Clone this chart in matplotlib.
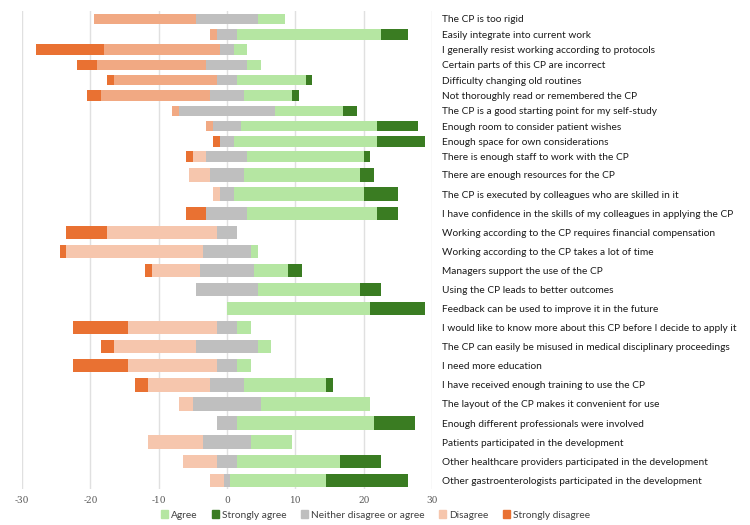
import numpy as np
import matplotlib.pyplot as plt
from matplotlib.patches import Patch

plt.rcParams['axes.unicode_minus'] = False

statements = [
    'The CP is too rigid',
    'Easily integrate into current work',
    'I generally resist working according to protocols',
    'Certain parts of this CP are incorrect',
    'Difficulty changing old routines',
    'Not thoroughly read or remembered the CP',
    'The CP is a good starting point for my self-study',
    'Enough room to consider patient wishes',
    'Enough space for own considerations',
    'There is enough staff to work with the CP',
    'There are enough resources for the CP',
    'The CP is executed by colleagues who are skilled in it',
    'I have confidence in the skills of my colleagues in applying the CP',
    'Working according to the CP requires financial compensation',
    'Working according to the CP takes a lot of time',
    'Managers support the use of the CP',
    'Using the CP leads to better outcomes',
    'Feedback can be used to improve it in the future',
    'I would like to know more about this CP before I decide to apply it',
    'The CP can easily be misused in medical disciplinary proceedings',
    'I need more education',
    'I have received enough training to use the CP',
    'The layout of the CP makes it convenient for use',
    'Enough different professionals were involved',
    'Patients participated in the development',
    'Other healthcare providers participated in the development',
    'Other gastroenterologists participated in the development',
]

strongly_disagree = [0, 0, 10, 3, 1, 2, 0, 0, 1, 1, 0, 0, 3, 6, 1, 1, 0, 0, 8, 2, 8, 2, 0, 0, 0, 0, 0]
disagree          = [15, 1, 17, 16, 15, 16, 1, 1, 0, 2, 3, 1, 0, 16, 20, 7, 0, 0, 13, 12, 13, 9, 2, 0, 8, 5, 2]
neutral           = [9, 3, 2, 6, 3, 5, 14, 4, 2, 6, 5, 2, 6, 3, 7, 8, 9, 0, 3, 9, 3, 5, 10, 3, 7, 3, 1]
agree             = [4, 21, 2, 2, 10, 7, 10, 20, 21, 17, 17, 19, 19, 0, 1, 5, 15, 21, 2, 2, 2, 12, 16, 20, 6, 15, 14]
strongly_agree    = [0, 4, 0, 0, 1, 1, 2, 6, 7, 1, 2, 5, 3, 0, 0, 2, 3, 8, 0, 0, 0, 1, 0, 6, 0, 6, 12]

C_AGREE = '#b5e6a2'
C_SAGREE = '#3a7c22'
C_NEUTRAL = '#bfbfbf'
C_DIS = '#f6c6ad'
C_DIS_TOP = '#f1a983'
C_SDIS = '#e97132'

sd = np.array(strongly_disagree)
d = np.array(disagree)
n = np.array(neutral)
a = np.array(agree)
sa = np.array(strongly_agree)
nrows = len(statements)

# the original stacks two blocks with different row spacing
idx = np.arange(nrows)
ypos = np.where(idx < 10, 19 + 15.3 * idx, 175 + 19.08 * (idx - 10))
heights = np.where(idx < 10, 10.5, 13.3)
dis_colors = [C_DIS_TOP if i < 9 else C_DIS for i in idx]

fig = plt.figure(figsize=(7.5, 5.25), dpi=100)
ax = fig.add_axes([22 / 750, 1 - 489 / 525, 410 / 750, 478 / 525])

left_n = -n / 2
ax.barh(ypos, n, left=left_n, height=heights, color=C_NEUTRAL, zorder=3)
ax.barh(ypos, -d, left=left_n, height=heights, color=dis_colors, zorder=3)
ax.barh(ypos, -sd, left=left_n - d, height=heights, color=C_SDIS, zorder=3)
ax.barh(ypos, a, left=n / 2, height=heights, color=C_AGREE, zorder=3)
ax.barh(ypos, sa, left=n / 2 + a, height=heights, color=C_SAGREE, zorder=3)

ax.set_xlim(-30, 30)
ax.set_ylim(489, 11)
ax.set_xticks(np.arange(-30, 31, 10))
ax.grid(axis='x', color='#e0e0e0', linewidth=1, zorder=0)
for s in ax.spines.values():
    s.set_visible(False)

ax.yaxis.tick_right()
ax.set_yticks(ypos)
ax.set_yticklabels(statements, fontsize=7.3, color='#1a1a1a', family='Lato')
ax.tick_params(axis='y', length=0, pad=7)
ax.tick_params(axis='x', length=0, pad=5, labelsize=7, labelcolor='#595959')
for lbl in ax.get_xticklabels():
    lbl.set_family('DejaVu Serif')
    lbl.set_fontsize(6.5)

handles = [Patch(color=C_AGREE, label='Agree'),
           Patch(color=C_SAGREE, label='Strongly agree'),
           Patch(color=C_NEUTRAL, label='Neither disagree or agree'),
           Patch(color=C_DIS, label='Disagree'),
           Patch(color=C_SDIS, label='Strongly disagree')]
fig.legend(handles=handles, loc='center', bbox_to_anchor=(0.501, 0.019), ncol=5,
           frameon=False, handlelength=0.7, handleheight=0.7, handletextpad=0.3,
           columnspacing=1.4, prop={'family': 'Lato', 'size': 7.3},
           labelcolor='#404040')

fig.savefig('out.png', dpi=100)
